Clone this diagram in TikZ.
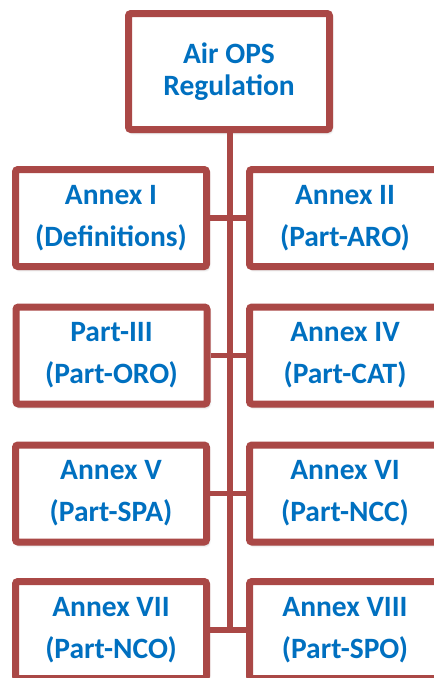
\documentclass[tikz,border=0pt]{standalone}
\usepackage{fontspec}
\setmainfont{Carlito}
\usetikzlibrary{shadows.blur}
\definecolor{boxred}{RGB}{170,72,70}
\definecolor{txtblue}{RGB}{0,112,192}
\begin{document}
\begin{tikzpicture}[x=1pt,y=-1pt,
  boxbase/.style={draw=boxred, line width=7pt, fill=white, rounded corners=2.5pt,
    text=txtblue, align=center, inner sep=0pt,
    blur shadow={shadow xshift=1.5pt, shadow yshift=-2.5pt, shadow blur radius=3pt, shadow opacity=40}},
  annex/.style={boxbase, minimum width=191pt, minimum height=97pt,
    font=\fontsize{29.5}{42}\selectfont\bfseries},
  topbox/.style={boxbase, minimum width=201pt, minimum height=116pt,
    font=\fontsize{29.5}{32}\selectfont\bfseries},
  trunk/.style={draw=boxred, line width=6pt},
  branch/.style={draw=boxred, line width=5.5pt}]
\useasboundingbox (0,0) rectangle (434,678);
\clip (0,0) rectangle (434,678);
\coordinate (tend) at (229.5,632);
\node[topbox] (top) at (229,71.5) {Air OPS\\Regulation};
\node[annex] (a1) at (111,218) {Annex I\\(Definitions)};
\node[annex] (a2) at (345,218) {Annex II\\(Part-ARO)};
\node[annex] (a3) at (111.5,355.5) {Part-III\\(Part-ORO)};
\node[annex] (a4) at (345,355.5) {Annex IV\\(Part-CAT)};
\node[annex] (a5) at (111,493.5) {Annex V\\(Part-SPA)};
\node[annex] (a6) at (345,493.5) {Annex VI\\(Part-NCC)};
\node[annex] (a7) at (111,630) {Annex VII\\(Part-NCO)};
\node[annex] (a8) at (345,630) {Annex VIII\\(Part-SPO)};
\draw[trunk] (top.south -| tend) -- (tend);
\draw[branch] (a1.east) -- (a2.west);
\draw[branch] (a3.east) -- (a4.west);
\draw[branch] (a5.east) -- (a6.west);
\draw[branch] (a7.east) -- (a8.west);
\end{tikzpicture}
\end{document}
